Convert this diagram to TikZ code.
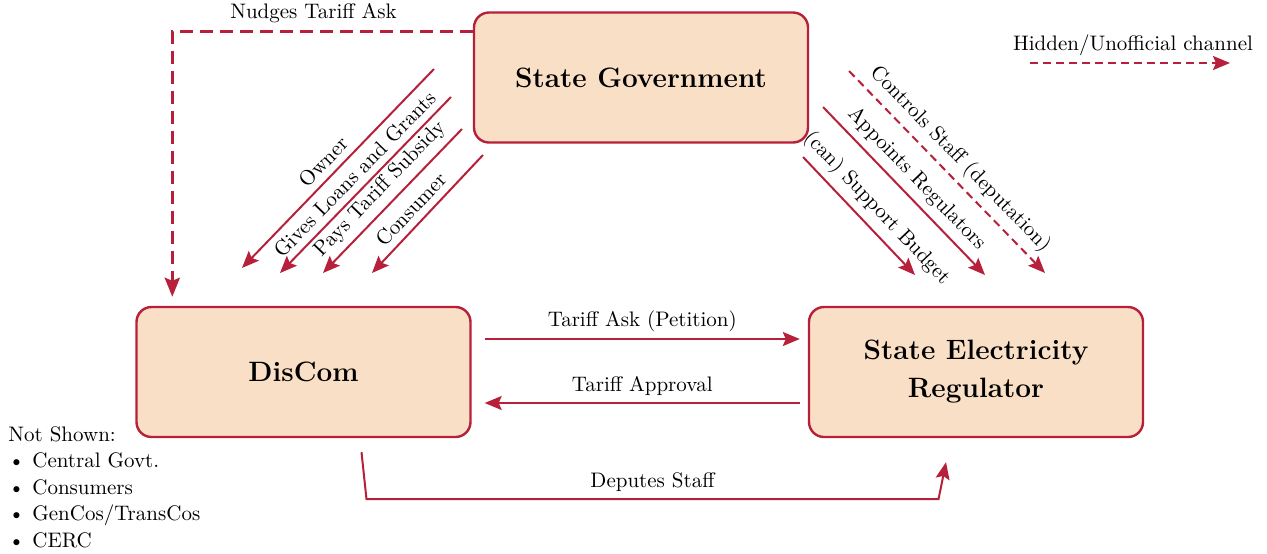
\documentclass[tikz,border=0pt]{standalone}
\usepackage{tikz}
\usetikzlibrary{arrows.meta,calc}

\definecolor{crimson}{RGB}{183,32,58}
\definecolor{peach}{RGB}{248,223,197}

\tikzset{
  box/.style={draw=crimson, fill=peach, line width=1.2pt, rounded corners=7.5pt,
    minimum width=167pt, minimum height=65pt, align=center,
    font=\bfseries\fontsize{14}{19}\selectfont},
  flow/.style={draw=crimson, line width=1pt, -{Stealth[length=8.5pt,width=7pt,inset=1.5pt]}},
  hidden/.style={flow, dash pattern=on 4pt off 2.5pt},
  lbl/.style={font=\fontsize{10.5}{13.25}\selectfont, text=black},
}

\begin{document}
\begin{tikzpicture}[x=0.5pt, y=-0.5pt]
	\useasboundingbox (0,0) rectangle (1267,553);
	
	\node[box] (gov) at (641,77.5) {State Government};
	\node[box] (discom) at (303.5,372) {DisCom};
	\node[box] (serc) at (976,372) {State Electricity\\Regulator};
	
	% free ends of the slanted arrows
	\coordinate (own1) at (434,69);  \coordinate (own2) at (242,268);
	\coordinate (loan1) at (451,97); \coordinate (loan2) at (280,273);
	\coordinate (sub1) at (462,129); \coordinate (sub2) at (323,273);
	\coordinate (con1) at (483,155); \coordinate (con2) at (372,273);
	\coordinate (bud1) at (803,157); \coordinate (bud2) at (915,275);
	\coordinate (app1) at (823,107); \coordinate (app2) at (985,275);
	\coordinate (stf1) at (849,71);  \coordinate (stf2) at (1045,273);
	
	\draw[flow] (own1) -- (own2) node[lbl,above,sloped][pos=0.52]{Owner};
	\draw[flow] (loan1) -- (loan2) node[lbl,above,sloped][pos=0.5]{Gives Loans and Grants};
	\draw[flow] (sub1) -- (sub2) node[lbl,above,sloped][pos=0.5]{Pays Tariff Subsidy};
	\draw[flow] (con1) -- (con2) node[lbl,above,sloped][pos=0.55]{Consumer};
	
	\draw[flow] (bud1) -- (bud2) node[lbl,above,sloped][pos=0.54]{(can) Support Budget};
	\draw[flow] (app1) -- (app2) node[lbl,above,sloped][pos=0.5]{Appoints Regulators};
	\draw[hidden] (stf1) -- (stf2) node[lbl,above,sloped][pos=0.5]{Controls Staff (deputation)};
	
	% tariff petition and approval
	\draw[flow] ([xshift=6.5pt,yshift=16.5pt]discom.east) -- ([xshift=-4pt,yshift=16.5pt]serc.west) node[lbl,above][pos=0.5]{Tariff Ask (Petition)};
	\draw[flow] ([xshift=-4pt,yshift=-15.5pt]serc.west) -- ([xshift=6.5pt,yshift=-15.5pt]discom.east) node[lbl,above][pos=0.5]{Tariff Approval};
	
	\draw[flow] ([xshift=29pt,yshift=-7pt]discom.south) -- ++(5,47) -- node[lbl,above]{Deputes Staff} ++(572,0) -- ([xshift=-15pt,yshift=-12pt]serc.south);
	
	\draw[hidden, line width=1.7pt, dash pattern=on 6.5pt off 3.5pt, -{Stealth[length=9.5pt,width=7.5pt,inset=1.5pt]}] ([yshift=-10pt]gov.north west) -| ([xshift=18.5pt,yshift=4.5pt]discom.north west) node[lbl,above][pos=0.265]{Nudges Tariff Ask};
	
	% key
	\node[lbl] (key) at (1133,45) {Hidden/Unofficial channel};
	\coordinate (key1) at (1030,63); \coordinate (key2) at (1230,63);
	\draw[hidden] (key1) -- (key2);
	
	\node[lbl, anchor=north west, align=left, inner sep=0pt] (notshown) at (8,426) {Not Shown:\\
		\makebox[12pt][l]{\textbullet}Central Govt.\\
		\makebox[12pt][l]{\textbullet}Consumers\\
		\makebox[12pt][l]{\textbullet}GenCos/TransCos\\
		\makebox[12pt][l]{\textbullet}CERC};
\end{tikzpicture}
\end{document}
